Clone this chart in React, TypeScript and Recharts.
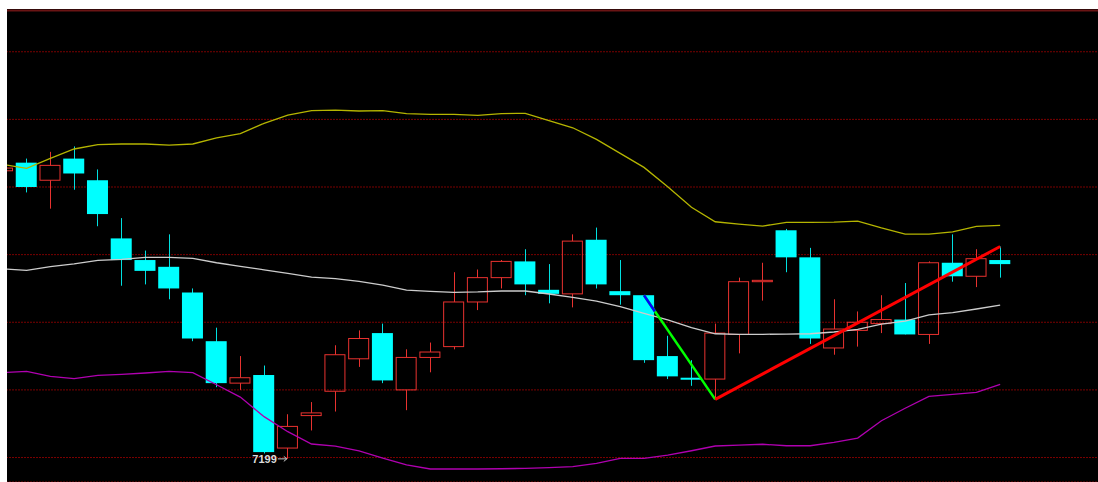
import React from 'react';
import { ComposedChart, Bar, Line, XAxis, YAxis, CartesianGrid, ReferenceLine, ReferenceDot } from 'recharts';

// 43 trading days shown, 4 empty slots to the right
const SLOT_COUNT = 47;
const days = Array.from({ length: SLOT_COUNT }, (_, i) => i);

const opens = [7412, 7418, 7405, 7421, 7405, 7362, 7346, 7341, 7322, 7286, 7255, 7261, 7207, 7231, 7249, 7273, 7292, 7250, 7274, 7282, 7315, 7333, 7345, 7324, 7321, 7361, 7323, 7320, 7275, 7259, 7258, 7291, 7330, 7368, 7348, 7281, 7294, 7299, 7302, 7291, 7344, 7334, 7346];
const highs = [7416, 7421, 7426, 7430, 7413, 7377, 7353, 7365, 7325, 7296, 7275, 7268, 7232, 7241, 7283, 7294, 7299, 7280, 7285, 7337, 7339, 7346, 7354, 7343, 7365, 7370, 7346, 7320, 7290, 7272, 7299, 7333, 7344, 7369, 7355, 7317, 7308, 7320, 7329, 7345, 7365, 7354, 7356];
const lows = [7410, 7396, 7384, 7398, 7371, 7327, 7328, 7317, 7286, 7252, 7250, 7203, 7199, 7220, 7234, 7267, 7255, 7235, 7263, 7280, 7309, 7325, 7320, 7314, 7311, 7325, 7313, 7270, 7258, 7253, 7243, 7277, 7316, 7337, 7284, 7276, 7282, 7292, 7291, 7284, 7330, 7326, 7333];
const closes = [7414, 7400, 7416, 7410, 7380, 7346, 7338, 7325, 7288, 7255, 7259, 7204, 7223, 7233, 7276, 7288, 7257, 7274, 7278, 7315, 7333, 7345, 7328, 7321, 7360, 7328, 7320, 7272, 7260, 7258, 7292, 7330, 7331, 7348, 7288, 7295, 7300, 7302, 7291, 7344, 7334, 7347, 7343];

// Bollinger bands
const upperBand = [7416.6, 7413.8, 7421.2, 7428.1, 7431.3, 7431.8, 7431.8, 7431.0, 7431.8, 7436.4, 7439.4, 7447.1, 7453.2, 7456.4, 7456.9, 7456.2, 7456.4, 7454.2, 7453.7, 7453.7, 7453.0, 7454.2, 7454.5, 7449.0, 7443.8, 7435.2, 7424.9, 7414.5, 7400.2, 7385.0, 7374.3, 7372.6, 7371.1, 7373.9, 7373.9, 7374.1, 7374.8, 7369.7, 7365.2, 7365.2, 7366.9, 7370.9, 7371.7];
const midBand = [7339.4, 7338.4, 7341.1, 7343.1, 7345.8, 7346.5, 7348.0, 7348.0, 7347.3, 7344.0, 7341.4, 7338.8, 7336.2, 7333.4, 7332.2, 7330.3, 7327.5, 7323.8, 7322.9, 7322.1, 7322.4, 7323.1, 7323.1, 7320.9, 7318.4, 7315.7, 7311.5, 7306.6, 7301.7, 7296.0, 7291.5, 7291.1, 7291.1, 7291.3, 7291.5, 7292.8, 7294.8, 7298.7, 7300.9, 7305.4, 7307.1, 7309.8, 7312.7];
const lowerBand = [7262.8, 7263.7, 7260.0, 7258.3, 7260.8, 7261.5, 7262.5, 7263.7, 7262.7, 7253.8, 7244.7, 7230.2, 7219.1, 7210.0, 7208.5, 7205.0, 7199.6, 7194.5, 7191.5, 7191.5, 7191.5, 7191.7, 7192.0, 7192.5, 7193.2, 7195.7, 7199.4, 7199.4, 7201.8, 7205.0, 7208.5, 7209.2, 7209.8, 7208.7, 7208.7, 7211.2, 7214.4, 7227.2, 7236.4, 7245.2, 7246.7, 7248.2, 7254.1];

const gridLevels = [7200, 7250, 7300, 7350, 7400, 7450, 7500];
const Y_MIN = 7181.9;
const Y_MAX = 7530.5;

// hand-drawn trend lines: [fromDay, fromPrice, toDay, toPrice]
const downTrend = [27, 7320, 30, 7243];
const downTrendHead = [27, 7320, 27.46, 7308];
const upTrend = [30, 7243, 42, 7356];

const lowestDay = 12;
const lowestPrice = 7199;

const data = days.map((i) => ({
  i,
  o: opens[i],
  h: highs[i],
  l: lows[i],
  c: closes[i],
  up: upperBand[i],
  mid: midBand[i],
  dn: lowerBand[i],
}));

const Candle = (props: any) => {
  const { x, y, width, height, payload } = props;
  if (!payload || payload.o == null) return null;
  const { o, h, l, c } = payload;
  const top = Math.min(y, y + height);
  const span = Math.abs(height);
  const toPx = (v: number) => top + ((h - v) / (h - l)) * span;
  const cx = Math.round(x + width / 2) + 0.5;
  const rising = c >= o;
  const bodyTop = toPx(Math.max(o, c));
  const bodyBot = toPx(Math.min(o, c));
  if (rising) {
    const color = '#e8322f';
    return (
      <g>
        <line x1={cx} x2={cx} y1={toPx(h)} y2={bodyTop} stroke={color} strokeWidth={1} />
        <line x1={cx} x2={cx} y1={bodyBot} y2={toPx(l)} stroke={color} strokeWidth={1} />
        <rect x={x + 0.5} y={bodyTop} width={width - 1} height={Math.max(bodyBot - bodyTop, 1)} fill="none" stroke={color} strokeWidth={1} />
      </g>
    );
  }
  return (
    <g>
      <line x1={cx} x2={cx} y1={toPx(h)} y2={toPx(l)} stroke="#00e0e0" strokeWidth={1} />
      <rect x={x} y={bodyTop} width={width} height={Math.max(bodyBot - bodyTop, 2)} fill="#00ffff" />
    </g>
  );
};

const LowMark = (props: any) => {
  const { cx, cy } = props;
  return (
    <g>
      <text x={cx - 11} y={cy} textAnchor="end" dominantBaseline="central" fontSize={11} fontWeight="bold" fill="#dcdcdc" fontFamily="'Liberation Sans', Arial, sans-serif">
        {lowestPrice}
      </text>
      <line x1={cx - 10} x2={cx - 1} y1={cy} y2={cy} stroke="#c8c8c8" strokeWidth={1} />
      <path d={`M${cx - 4},${cy - 2.5} L${cx - 1},${cy} L${cx - 4},${cy + 2.5}`} fill="none" stroke="#c8c8c8" strokeWidth={1} />
    </g>
  );
};

const seg = (t: number[]) => [
  { x: t[0], y: t[1] },
  { x: t[2], y: t[3] },
];

export default function App() {
  return (
    <div style={{ position: 'fixed', left: 7, top: 9, width: 1091, height: 473, background: '#000', overflow: 'hidden' }}>
      <div style={{ position: 'absolute', left: -16, top: 0 }}>
        <ComposedChart width={1116} height={473} data={data} margin={{ top: 1.5, right: 0, bottom: 0, left: 0 }}>
          <XAxis dataKey="i" type="category" hide />
          <XAxis xAxisId="n" dataKey="i" type="number" domain={[-0.5, SLOT_COUNT - 0.5]} allowDataOverflow hide />
          <YAxis type="number" domain={[Y_MIN, Y_MAX]} ticks={gridLevels} allowDataOverflow hide />

          <CartesianGrid vertical={false} stroke="#7a0000" strokeDasharray="2 1" />

          <ReferenceLine y={Y_MAX} stroke="#6a1414" strokeWidth={2} />

          <Bar
            dataKey={(d: any) => (d.o == null ? null : [d.l, d.h])}
            barSize={21}
            shape={<Candle />}
            isAnimationActive={false}
          />

          <Line type="linear" dataKey="up" stroke="#b4b400" strokeWidth={1.3} dot={false} isAnimationActive={false} />
          <Line type="linear" dataKey="mid" stroke="#cccccc" strokeWidth={1.3} dot={false} isAnimationActive={false} />
          <Line type="linear" dataKey="dn" stroke="#b000b0" strokeWidth={1.3} dot={false} isAnimationActive={false} />

          <ReferenceLine xAxisId="n" segment={seg(downTrend)} stroke="#00ff00" strokeWidth={2.5} />
          <ReferenceLine xAxisId="n" segment={seg(downTrendHead)} stroke="#0000ff" strokeWidth={2.5} />
          <ReferenceLine xAxisId="n" segment={seg(upTrend)} stroke="#ff0000" strokeWidth={3} />

          <ReferenceDot xAxisId="n" x={lowestDay} y={lowestPrice} r={0} shape={<LowMark />} />
        </ComposedChart>
      </div>
    </div>
  );
}
